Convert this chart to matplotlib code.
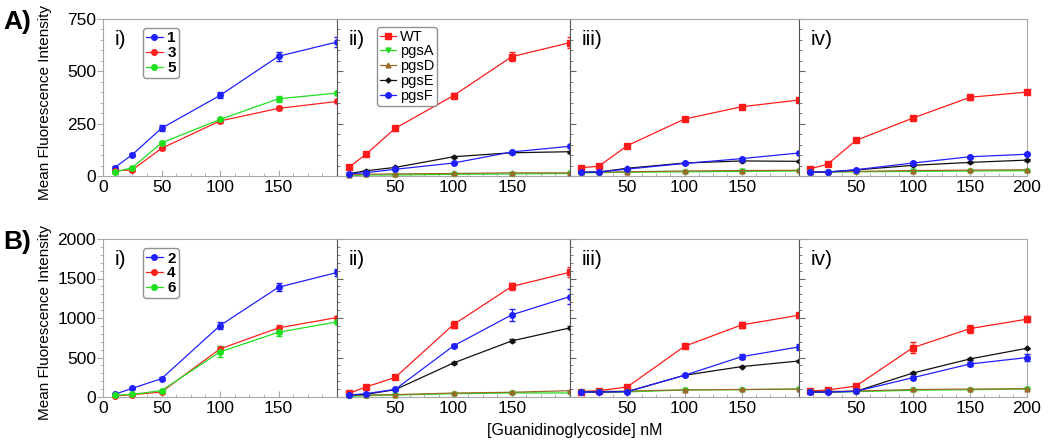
import matplotlib.pyplot as plt
from matplotlib.ticker import MultipleLocator

plt.rcParams['font.family'] = ['Liberation Sans', 'DejaVu Sans']

conc = [10, 25, 50, 100, 150, 200]

# row A, panel i: compounds 1, 3, 5
a_i = {
    "1": ([40, 102, 228, 385, 572, 640], [6, 6, 14, 14, 22, 22]),
    "3": ([25, 29, 132, 263, 323, 356], [4, 4, 8, 8, 10, 8]),
    "5": ([18, 40, 158, 270, 369, 396], [4, 4, 8, 8, 14, 10]),
}
# row B, panel i: compounds 2, 4, 6
b_i = {
    "2": ([34, 110, 232, 904, 1390, 1576], [10, 10, 15, 40, 50, 50]),
    "4": ([13, 30, 63, 609, 875, 1006], [5, 5, 10, 40, 35, 25]),
    "6": ([21, 34, 80, 571, 820, 951], [5, 5, 10, 70, 50, 30]),
}

# cell lines, panels ii-iv
a_ii = {
    "WT":   ([41, 104, 228, 384, 570, 637], [6, 6, 12, 12, 20, 25]),
    "pgsA": ([3, 5, 5, 8, 10, 12], [1, 1, 1, 1, 1, 1]),
    "pgsD": ([5, 8, 10, 12, 15, 15], [1, 1, 1, 1, 1, 1]),
    "pgsE": ([11, 25, 41, 92, 111, 116], [2, 2, 3, 4, 4, 4]),
    "pgsF": ([10, 16, 32, 62, 115, 142], [2, 2, 3, 4, 5, 5]),
}
a_iii = {
    "WT":   ([40, 46, 145, 272, 331, 363], [4, 4, 6, 6, 10, 8]),
    "pgsA": ([15, 16, 18, 20, 22, 24], [1, 1, 1, 1, 1, 1]),
    "pgsD": ([17, 18, 20, 24, 26, 27], [1, 1, 1, 1, 1, 1]),
    "pgsE": ([18, 19, 37, 62, 72, 70], [2, 2, 2, 3, 3, 3]),
    "pgsF": ([18, 19, 33, 60, 83, 110], [2, 2, 2, 3, 4, 4]),
}
a_iv = {
    "WT":   ([35, 56, 170, 277, 376, 401], [4, 4, 6, 6, 12, 10]),
    "pgsA": ([18, 19, 20, 22, 24, 25], [1, 1, 1, 1, 1, 1]),
    "pgsD": ([19, 20, 22, 26, 28, 30], [1, 1, 1, 1, 1, 1]),
    "pgsE": ([18, 19, 29, 51, 65, 76], [2, 2, 2, 3, 3, 3]),
    "pgsF": ([18, 19, 30, 62, 92, 104], [2, 2, 2, 3, 4, 4]),
}
b_ii = {
    "WT":   ([46, 127, 249, 917, 1399, 1580], [10, 10, 15, 40, 50, 60]),
    "pgsA": ([8, 17, 25, 42, 51, 51], [3, 3, 3, 4, 4, 4]),
    "pgsD": ([20, 25, 30, 50, 60, 80], [3, 3, 3, 4, 4, 4]),
    "pgsE": ([25, 34, 93, 431, 710, 875], [5, 5, 8, 15, 20, 20]),
    "pgsF": ([25, 42, 97, 647, 1040, 1272], [5, 5, 8, 20, 80, 100]),
}
b_iii = {
    "WT":   ([68, 80, 127, 642, 913, 1035], [5, 5, 10, 15, 35, 20]),
    "pgsA": ([63, 63, 65, 89, 93, 101], [3, 3, 3, 3, 3, 3]),
    "pgsD": ([70, 70, 75, 90, 95, 100], [3, 3, 3, 3, 3, 3]),
    "pgsE": ([63, 63, 68, 275, 385, 456], [3, 3, 3, 8, 8, 8]),
    "pgsF": ([63, 63, 68, 275, 511, 634], [3, 3, 3, 10, 30, 40]),
}
b_iv = {
    "WT":   ([76, 89, 139, 625, 866, 985], [5, 5, 10, 70, 50, 40]),
    "pgsA": ([63, 63, 68, 85, 93, 101], [3, 3, 3, 3, 3, 3]),
    "pgsD": ([70, 70, 75, 95, 100, 105], [3, 3, 3, 3, 3, 3]),
    "pgsE": ([63, 63, 72, 304, 482, 617], [3, 3, 3, 8, 8, 8]),
    "pgsF": ([63, 63, 72, 245, 418, 499], [3, 3, 3, 15, 25, 40]),
}

cmp_colors = {"1": "#2020ff", "3": "#ff2020", "5": "#20e020",
              "2": "#2020ff", "4": "#ff2020", "6": "#20e020"}
cell_style = {
    "WT":   ("#ff1a1a", "s", 4),
    "pgsA": ("#22dd22", "v", 3.5),
    "pgsD": ("#9a6a2a", "^", 3.5),
    "pgsE": ("#111111", "D", 2.5),
    "pgsF": ("#2020ff", "o", 4),
}

fig = plt.figure(figsize=(10.5, 4.48), dpi=100)
W, H = 1050, 448
lefts = [103, 337, 570, 799]
widths = [234, 233, 229, 228]
rows = [(19, 176, 750, 250, 50, [a_i, a_ii, a_iii, a_iv]),
        (239, 397, 2000, 500, 100, [b_i, b_ii, b_iii, b_iv])]
roman = ["i)", "ii)", "iii)", "iv)"]
edge = "#a8a8a8"

for r, (top, bot, ymax, ymaj, ymin_, panels) in enumerate(rows):
    for c in range(4):
        ax = fig.add_axes([lefts[c] / W, (H - bot) / H, widths[c] / W, (bot - top) / H])
        data = panels[c]
        handles, labels = [], []
        for name, (vals, errs) in data.items():
            if c == 0:
                col, mk, ms = cmp_colors[name], "o", 4
            else:
                col, mk, ms = cell_style[name]
            cont = ax.errorbar(conc, vals, yerr=errs, color=col, marker=mk, ms=ms,
                               lw=0.9, elinewidth=0.9, capsize=2.5,
                               clip_on=False, zorder=3)
            handles.append(cont.lines[0])
            labels.append(name)
        ax.set_xlim(0, 200)
        ax.set_ylim(0, ymax)
        ax.xaxis.set_major_locator(MultipleLocator(50))
        ax.xaxis.set_minor_locator(MultipleLocator(12.5))
        ax.yaxis.set_major_locator(MultipleLocator(ymaj))
        ax.yaxis.set_minor_locator(MultipleLocator(ymin_))
        for s in ["top", "right", "bottom"]:
            ax.spines[s].set_color(edge)
        ax.spines["left"].set_color("#555555" if c > 0 else edge)
        ax.tick_params(axis="x", which="both", direction="in", colors=edge,
                       labelcolor="black", labelsize=12.5, pad=3)
        ax.tick_params(axis="x", which="major", length=4)
        ax.tick_params(axis="x", which="minor", length=2)
        if c == 0:
            xt = [0, 50, 100, 150]
            ax.set_xticks(xt)
            ax.set_xticklabels([str(v) for v in xt])
            ax.tick_params(axis="y", which="both", direction="out", colors=edge,
                           labelcolor="black", labelsize=12.5, pad=1)
            ax.set_ylabel("Mean Fluorescence Intensity", fontsize=11)
            ax.yaxis.set_label_coords(-51 / widths[0], 0.47)
        else:
            xt = [50, 100, 150] + ([200] if c == 3 else [])
            ax.set_xticks(xt)
            ax.set_xticklabels([str(v) for v in xt])
            ax.tick_params(axis="y", which="both", direction="in", colors="#666666",
                           labelleft=False)
        ax.tick_params(axis="y", which="major", length=4)
        ax.tick_params(axis="y", which="minor", length=2)
        ax.text(0.05, 0.93, roman[c], transform=ax.transAxes, fontsize=15,
                va="top", ha="left")
        if c == 0:
            leg = ax.legend(handles, labels, loc="upper left", bbox_to_anchor=(0.17, 0.94),
                            prop={"weight": "bold", "size": 11},
                            handlelength=1.1, handletextpad=0.3, borderpad=0.2,
                            labelspacing=0.05, borderaxespad=0, frameon=True, fancybox=True)
            leg.get_frame().set_edgecolor("#777777")
        elif c == 1 and r == 0:
            leg = ax.legend(handles, labels, loc="upper left", bbox_to_anchor=(0.17, 0.95),
                            prop={"size": 10.5},
                            handlelength=1.1, handletextpad=0.3,
                            borderpad=0.2, labelspacing=0.05, borderaxespad=0,
                            frameon=True, fancybox=True)
            leg.get_frame().set_edgecolor("#777777")

fig.text(3 / W, 1 - 22 / H, "A)", fontsize=19, fontweight="bold", va="center")
fig.text(3 / W, 1 - 242 / H, "B)", fontsize=19, fontweight="bold", va="center")
fig.text(575 / W, 1 - 430 / H, "[Guanidinoglycoside] nM", fontsize=11.5,
         ha="center", va="center")

fig.savefig("out.png", dpi=100)
